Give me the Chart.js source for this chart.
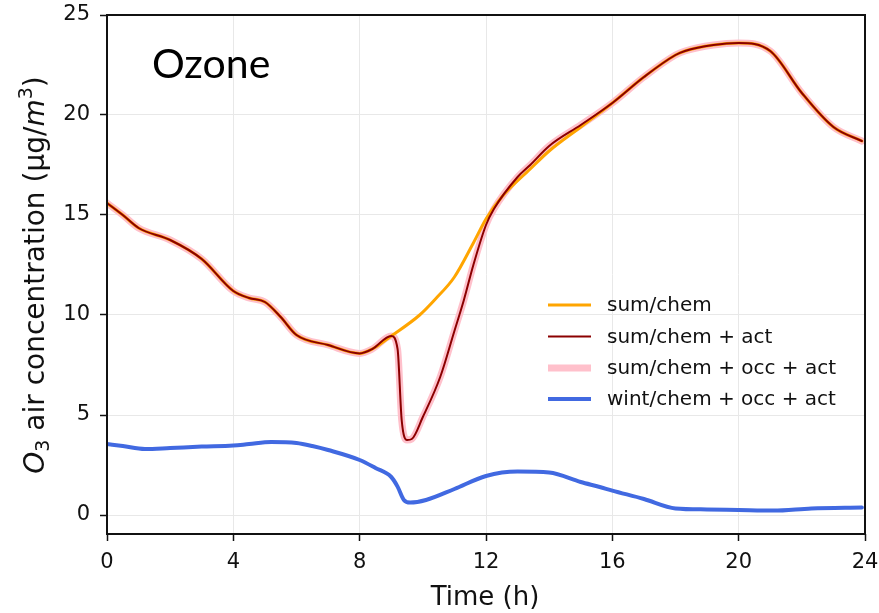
<!DOCTYPE html>
<html>
<head>
<meta charset="utf-8">
<script src="https://cdn.jsdelivr.net/npm/chart.js@4.4.0/dist/chart.umd.min.js"></script>
<style>
  body { margin: 0; background: #fff; }
</style>
</head>
<body>
<canvas id="chart" width="879" height="613"></canvas>
<script>
// tick labels
const xTicks = [0, 4, 8, 12, 16, 20, 24];
const yTicks = [0, 5, 10, 15, 20, 25];

const seriesLabels = ['sum/chem', 'sum/chem + act', 'sum/chem + occ + act', 'wint/chem + occ + act'];

// sum/chem
const sumChemTime = [0, 0.5, 1, 2, 3, 4, 4.5, 5, 5.5, 6, 7, 8, 8.4, 9, 9.9, 10.4, 11, 11.6, 12, 12.5, 13.4, 14, 15, 16, 17, 18, 18.3, 19.2, 20, 21, 22, 23, 23.9];
const sumChem = [15.6, 15.0, 14.35, 13.75, 12.8, 11.2, 10.85, 10.65, 9.9, 9.0, 8.5, 8.08, 8.3, 8.95, 10.0, 10.8, 11.9, 13.6, 14.8, 15.9, 17.3, 18.2, 19.4, 20.6, 21.9, 23.0, 23.2, 23.5, 23.6, 23.2, 21.1, 19.4, 18.7];

// sum/chem + act
const actTime = [0, 0.5, 1, 2, 3, 4, 4.5, 5, 5.5, 6, 7, 8, 8.4, 9, 9.2, 9.33, 9.5, 9.65, 10, 10.55, 11, 11.3, 11.6, 12, 12.25, 13, 13.4, 14, 15, 16, 17, 18, 18.3, 19.2, 20, 21, 22, 23, 23.9];
const sumChemAct = [15.6, 15.0, 14.35, 13.75, 12.8, 11.2, 10.85, 10.65, 9.9, 9.0, 8.5, 8.08, 8.3, 8.95, 8.3, 4.75, 3.75, 3.8, 4.9, 6.9, 9.2, 10.75, 12.5, 14.5, 15.3, 16.9, 17.5, 18.45, 19.5, 20.6, 21.9, 23.0, 23.2, 23.5, 23.6, 23.2, 21.1, 19.4, 18.7];

// sum/chem + occ + act
const occActTime = [0, 0.5, 1, 2, 3, 4, 4.5, 5, 5.5, 6, 7, 8, 8.4, 9, 9.2, 9.33, 9.5, 9.65, 10, 10.55, 11, 11.3, 11.6, 12, 12.25, 13, 13.4, 14, 15, 16, 17, 18, 18.3, 19.2, 20, 21, 22, 23, 23.9];
const sumChemOccAct = [15.6, 15.0, 14.35, 13.75, 12.8, 11.2, 10.85, 10.65, 9.9, 9.0, 8.5, 8.08, 8.3, 8.95, 8.3, 4.75, 3.75, 3.8, 4.9, 6.9, 9.2, 10.75, 12.5, 14.5, 15.3, 16.9, 17.5, 18.45, 19.5, 20.6, 21.9, 23.0, 23.2, 23.5, 23.6, 23.2, 21.1, 19.4, 18.7];

// wint/chem + occ + act
const wintTime = [0, 0.5, 1.2, 2, 3, 4, 4.5, 5.2, 6, 6.5, 7, 8, 8.5, 9, 9.2, 9.4, 9.6, 10.1, 11, 12, 13, 14, 15, 15.6, 16, 17, 18, 19, 20, 21.1, 22.3, 23.9];
const wint = [3.55, 3.45, 3.3, 3.35, 3.42, 3.47, 3.55, 3.65, 3.6, 3.45, 3.25, 2.75, 2.35, 1.9, 1.42, 0.75, 0.62, 0.75, 1.3, 1.95, 2.17, 2.12, 1.65, 1.4, 1.22, 0.8, 0.33, 0.28, 0.25, 0.22, 0.33, 0.38];

const toPoints = (xs, ys) => xs.map((x, i) => ({ x: x, y: ys[i] }));

const tickFont = { family: 'DejaVu Sans', size: 21 };

// frame, title text, axis titles and legend drawn on top
const decorations = {
  id: 'decorations',
  afterDraw(chart) {
    const ctx = chart.ctx;
    const a = chart.chartArea;
    ctx.save();

    // axes box
    ctx.strokeStyle = '#111';
    ctx.lineWidth = 2;
    ctx.strokeRect(a.left, a.top, a.right - a.left, a.bottom - a.top);

    // "Ozone"
    ctx.fillStyle = '#000';
    ctx.font = '41px Lato';
    ctx.textBaseline = 'alphabetic';
    ctx.textAlign = 'left';
    ctx.fillText('Ozone', 152, 78);

    // x title
    ctx.font = '26px "DejaVu Sans"';
    ctx.textAlign = 'center';
    ctx.fillStyle = '#111';
    ctx.fillText('Time (h)', 485, 605);

    // y title with italic O and m
    const parts = [
      { t: 'O', f: 'oblique 28px "DejaVu Sans"', dy: 0 },
      { t: '3', f: '19px "DejaVu Sans"', dy: 5 },
      { t: ' air concentration (μg/', f: '28px "DejaVu Sans"', dy: 0 },
      { t: 'm', f: 'oblique 28px "DejaVu Sans"', dy: 0 },
      { t: '3', f: '19px "DejaVu Sans"', dy: -12 },
      { t: ')', f: '28px "DejaVu Sans"', dy: 0 }
    ];
    let total = 0;
    parts.forEach(p => { ctx.font = p.f; p.w = ctx.measureText(p.t).width; total += p.w; });
    ctx.translate(44, 275);
    ctx.rotate(-Math.PI / 2);
    ctx.textAlign = 'left';
    let cx = -total / 2;
    parts.forEach(p => {
      ctx.font = p.f;
      ctx.fillText(p.t, cx, p.dy);
      cx += p.w;
    });
    ctx.setTransform(1, 0, 0, 1, 0, 0);

    // legend
    const rows = [305, 336.5, 368, 399];
    ctx.font = '20px "DejaVu Sans"';
    ctx.textBaseline = 'middle';
    ctx.textAlign = 'left';
    chart.data.datasets.forEach((ds, i) => {
      ctx.strokeStyle = ds.borderColor;
      ctx.lineWidth = ds.borderWidth;
      ctx.lineCap = 'butt';
      ctx.beginPath();
      ctx.moveTo(548, rows[i]);
      ctx.lineTo(591, rows[i]);
      ctx.stroke();
      ctx.fillStyle = '#111';
      ctx.fillText(ds.label, 607, rows[i] + 1);
    });
    ctx.restore();
  }
};

new Chart(document.getElementById('chart'), {
  type: 'line',
  data: {
    datasets: [
      { label: seriesLabels[0], data: toPoints(sumChemTime, sumChem), borderColor: '#FFA500', borderWidth: 3, order: 2 },
      { label: seriesLabels[1], data: toPoints(actTime, sumChemAct), borderColor: '#8B0000', borderWidth: 2, order: 1 },
      { label: seriesLabels[2], data: toPoints(occActTime, sumChemOccAct), borderColor: '#FFC0CB', borderWidth: 7, order: 3 },
      { label: seriesLabels[3], data: toPoints(wintTime, wint), borderColor: '#4169E1', borderWidth: 4, order: 0 }
    ]
  },
  options: {
    responsive: false,
    animation: false,
    elements: {
      point: { radius: 0 },
      line: { cubicInterpolationMode: 'monotone', borderCapStyle: 'round', borderJoinStyle: 'round' }
    },
    layout: { padding: { left: 0, right: 14, top: 15, bottom: 0 } },
    plugins: {
      legend: { display: false },
      tooltip: { enabled: false }
    },
    scales: {
      x: {
        type: 'linear',
        min: 0,
        max: 24,
        afterBuildTicks: axis => { axis.ticks = xTicks.map(v => ({ value: v })); },
        afterFit: axis => { axis.height = 79; axis.paddingLeft = 0; axis.paddingRight = 0; },
        grid: { color: '#e8e8e8', lineWidth: 1, tickLength: 7, tickColor: '#111', tickWidth: 1.5 },
        border: { display: false },
        ticks: { font: tickFont, color: '#111', padding: 9, maxRotation: 0 }
      },
      y: {
        type: 'linear',
        min: -0.95,
        max: 25,
        afterBuildTicks: axis => { axis.ticks = yTicks.map(v => ({ value: v })); },
        afterFit: axis => { axis.width = 107; axis.paddingTop = 0; axis.paddingBottom = 0; },
        grid: { color: '#e8e8e8', lineWidth: 1, tickLength: 7, tickColor: '#111', tickWidth: 1.5 },
        border: { display: false },
        ticks: { font: tickFont, color: '#111', padding: 10 }
      }
    }
  },
  plugins: [decorations]
});
</script>
</body>
</html>
